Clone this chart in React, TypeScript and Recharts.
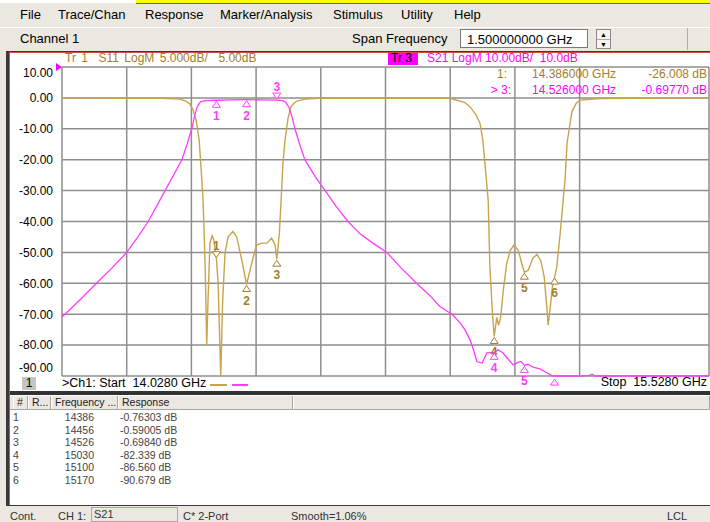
import { LineChart, Line, XAxis, YAxis, CartesianGrid, ReferenceDot } from "recharts"

// Sweep 14.028 – 15.528 GHz, 10 divisions
const FREQ_TICKS = [14.028, 14.178, 14.328, 14.478, 14.628, 14.778, 14.928, 15.078, 15.228, 15.378, 15.528]
const DB_TICKS = [10, 0, -10, -20, -30, -40, -50, -60, -70, -80, -90]

// Tr 1: S11 (5 dB/div)
const S11_FREQ = [14.028, 14.179, 14.255, 14.302, 14.316, 14.325, 14.332, 14.339, 14.346, 14.35, 14.355, 14.36, 14.3635, 14.3665, 14.371, 14.376, 14.38, 14.386, 14.39, 14.396, 14.4005, 14.406, 14.413, 14.424, 14.433, 14.445, 14.456, 14.468, 14.479, 14.491, 14.503, 14.514, 14.522, 14.526, 14.532, 14.536, 14.54, 14.545, 14.552, 14.559, 14.571, 14.591, 14.626, 14.928, 14.962, 14.974, 14.988, 14.997, 15.004, 15.009, 15.016, 15.02, 15.026, 15.03, 15.036, 15.04, 15.045, 15.051, 15.059, 15.067, 15.076, 15.086, 15.094, 15.1, 15.109, 15.119, 15.129, 15.138, 15.146, 15.152, 15.155, 15.159, 15.166, 15.17, 15.175, 15.183, 15.19, 15.194, 15.199, 15.21, 15.22, 15.229, 15.275, 15.528]
const S11_DB = [0, -0.05, -0.05, -0.2, -0.55, -1.0, -2.0, -3.6, -6.85, -10.9, -16.5, -27.4, -40, -32.8, -23.5, -22.3, -23, -26.0, -30, -45, -32.8, -25.1, -22.5, -21.6, -22.5, -26.3, -30.2, -26.7, -23.8, -23.5, -23.5, -22.7, -23.8, -26.1, -21.9, -16.5, -10.9, -6.85, -3.3, -1.35, -0.55, -0.2, -0.05, -0.05, -0.75, -1.45, -2.75, -4.1, -7, -11, -16.5, -27.4, -34.9, -38.6, -35.5, -36.8, -35.5, -31.2, -26.8, -24.7, -23.8, -24.7, -26.8, -28.2, -27.9, -26, -25.3, -26.3, -29, -33.9, -36.8, -34.4, -30, -29, -27.4, -21.9, -16.5, -13.5, -7.3, -2.25, -0.9, -0.35, -0.1, 0]

// Tr 3: S21 (10 dB/div)
const S21_FREQ = [14.028, 14.035, 14.07, 14.108, 14.144, 14.178, 14.204, 14.228, 14.267, 14.306, 14.318, 14.329, 14.336, 14.341, 14.346, 14.35, 14.36, 14.386, 14.418, 14.456, 14.492, 14.526, 14.54, 14.547, 14.554, 14.561, 14.568, 14.58, 14.591, 14.615, 14.638, 14.663, 14.691, 14.719, 14.749, 14.781, 14.814, 14.85, 14.881, 14.904, 14.932, 14.951, 14.962, 14.974, 14.983, 14.99, 15.002, 15.013, 15.03, 15.039, 15.05, 15.062, 15.074, 15.085, 15.092, 15.1, 15.108, 15.12, 15.136, 15.15, 15.166, 15.229, 15.25, 15.257, 15.264, 15.528]
const S21_DB = [-70.8, -70, -65.3, -60, -55, -50, -45, -40, -30, -20, -15, -10, -5.5, -3, -1.8, -1.2, -0.85, -0.763, -0.65, -0.59, -0.62, -0.698, -0.9, -1.5, -3, -6, -10, -15.5, -20, -25.5, -30, -35, -40, -44, -47, -50, -55, -60, -64, -67.5, -70, -72.8, -75, -78.3, -82, -85.4, -85.8, -82.5, -82.339, -81.5, -82.5, -84.5, -86.4, -85.6, -85.3, -86.56, -86.2, -87.1, -87.7, -88.8, -90, -90, -89.8, -89.4, -90, -90]

// markers 1..6
const MARKER_MHZ = [14386, 14456, 14526, 15030, 15100, 15170]
const MARKER_S21 = [-0.76303, -0.59005, -0.6984, -82.339, -86.56, -90.679]
const MARKER_S21_TEXT = ["-0.76303 dB", "-0.59005 dB", "-0.69840 dB", "-82.339 dB", "-86.560 dB", "-90.679 dB"]
const MARKER_S11 = [-26.008, -30.2, -26.1, -38.6, -28.2, -29.0]

const MENU = [["File", 20], ["Trace/Chan", 58], ["Response", 145], ["Marker/Analysis", 220], ["Stimulus", 333], ["Utility", 401], ["Help", 454]] as const

const TAN = "#c9a24c"
const TAN_TEXT = "#a37d2a"
const MAG = "#ff3cff"
const UI_BG = "#eae8e1"
const FONT = '"Liberation Sans", Arial, sans-serif'

const s11Data = S11_FREQ.map((f, i) => ({ f, v: S11_DB[i] }))
const s21Data = S21_FREQ.map((f, i) => ({ f, v: S21_DB[i] }))

function YTick(props: any) {
  const { x, y, payload } = props
  const v = payload.value as number
  const dy = v === 10 ? 6 : v === -90 ? -8 : 0
  return (
    <g>
      <text x={x - 1} y={y + dy} dy="0.36em" textAnchor="end" fontSize={12} fill="#000" fontFamily={FONT}>
        {v.toFixed(2)}
      </text>
      {v === 10 && <path d={`M${x + 2},${y - 4} L${x + 8},${y} L${x + 2},${y + 4} Z`} fill="#ff00ff" />}
    </g>
  )
}

// active marker: ▽ above the trace with its number on top; others: △ below with number underneath
function marker(n: number, color: string, active: boolean, showLabel = true) {
  return (p: any) => {
    const { cx, cy } = p
    if (active) {
      return (
        <g>
          <path d={`M${cx - 4},${cy - 7} L${cx + 4},${cy - 7} L${cx},${cy - 1} Z`} fill="#fff" stroke={color} strokeWidth={1} />
          <text x={cx} y={cy - 9} textAnchor="middle" fontSize={12} fontWeight="bold" fill={color} fontFamily={FONT}>{n}</text>
        </g>
      )
    }
    return (
      <g>
        <path d={`M${cx},${cy + 1} L${cx + 4},${cy + 7} L${cx - 4},${cy + 7} Z`} fill="#fff" stroke={color} strokeWidth={1} />
        {showLabel && <text x={cx} y={cy + 20} textAnchor="middle" fontSize={12} fontWeight="bold" fill={color} fontFamily={FONT}>{n}</text>}
      </g>
    )
  }
}

const abs = (left: number, top: number, extra: React.CSSProperties = {}): React.CSSProperties => ({
  position: "absolute", left, top, whiteSpace: "nowrap", ...extra,
})

export default function App() {
  return (
    <div style={{ position: "fixed", left: 0, top: 0, width: 710, height: 522, overflow: "hidden", background: UI_BG, fontFamily: FONT, color: "#000" }}>
      {/* title strip */}
      <div style={abs(0, 0, { width: 710, height: 3, background: "#fff" })} />
      <div style={abs(136, 0, { width: 574, height: 3, background: "#ffff00", borderBottom: "1px solid #666" })} />

      {/* menu bar */}
      {MENU.map(([t, x]) => (
        <div key={t} style={abs(x, 7, { fontSize: 13, lineHeight: "16px" })}>{t}</div>
      ))}
      <div style={abs(0, 27, { width: 710, height: 1, background: "#fff" })} />

      {/* toolbar */}
      <div style={abs(20, 31, { fontSize: 13, lineHeight: "16px" })}>Channel 1</div>
      <div style={abs(352, 31, { fontSize: 13, lineHeight: "16px" })}>Span Frequency</div>
      <div style={abs(460, 29, { width: 128, height: 19, background: "#fff", border: "1px solid #7a7a7a", fontSize: 13, lineHeight: "19px", paddingLeft: 6, boxSizing: "border-box" as const })}>1.500000000 GHz</div>
      <div style={abs(596, 29, { width: 15, height: 20, background: "#f4f3ef", border: "1px solid #8a8a8a", boxSizing: "border-box" as const, fontSize: 7, lineHeight: "9px", textAlign: "center" })}>
        <div>▲</div>
        <div style={{ borderTop: "1px solid #aaa" }}>▼</div>
      </div>
      <div style={abs(687, 28, { width: 1, height: 22, background: "#b0aea6" })} />

      {/* chart panel */}
      <div style={abs(6, 51, { width: 704, height: 455, background: "#3a3a3a" })} />
      <div style={abs(9, 52, { width: 701, height: 453, background: "#d44a4a" })} />
      <div style={abs(10, 53, { width: 700, height: 338, background: "#fff" })} />

      <div style={abs(0, 52)}>
        <LineChart width={710} height={340} margin={{ top: 15, right: 1, bottom: 16, left: 0 }}>
          <CartesianGrid stroke="#8e8e8e" strokeWidth={1.5} verticalFill={[]} horizontalFill={[]} />
          <XAxis type="number" dataKey="f" domain={[14.028, 15.528]} ticks={FREQ_TICKS} hide allowDataOverflow />
          <YAxis type="number" domain={[-90, 10]} ticks={DB_TICKS} interval={0} width={62} axisLine={false} tickLine={false} tick={<YTick />} />
          <YAxis yAxisId="s11" type="number" domain={[-45, 5]} hide />
          <Line data={s11Data} dataKey="v" yAxisId="s11" type="linear" stroke={TAN} strokeWidth={1.4} dot={false} isAnimationActive={false} />
          <Line data={s21Data} dataKey="v" type="linear" stroke={MAG} strokeWidth={1.3} dot={false} isAnimationActive={false} />
          {MARKER_MHZ.map((m, i) => (
            <ReferenceDot key={"s11-" + i} x={m / 1000} y={MARKER_S11[i]} yAxisId="s11" r={0} ifOverflow="visible" shape={marker(i + 1, TAN_TEXT, i === 0)} />
          ))}
          {MARKER_MHZ.map((m, i) => (
            <ReferenceDot key={"s21-" + i} x={m / 1000} y={MARKER_S21[i]} r={0} ifOverflow="visible" shape={marker(i + 1, MAG, i === 2, MARKER_S21[i] > -90)} />
          ))}
        </LineChart>
      </div>

      {/* trace titles */}
      <div style={abs(65, 52, { fontSize: 12, color: TAN_TEXT, lineHeight: "13px", wordSpacing: 2 })}>Tr 1&nbsp; S11 LogM 5.000dB/&nbsp; 5.00dB</div>
      <div style={abs(388, 53, { width: 30, height: 12, background: "#ff00ff" })} />
      <div style={abs(391, 52, { fontSize: 12, color: "#000", lineHeight: "13px" })}>Tr 3</div>
      <div style={abs(427, 52, { fontSize: 12, color: "#ff00ff", lineHeight: "13px" })}>S21 LogM 10.00dB/&nbsp; 10.0dB</div>

      {/* marker readout */}
      <div style={abs(470, 67, { width: 37, textAlign: "right", fontSize: 12, color: TAN_TEXT })}>1:</div>
      <div style={abs(532, 67, { fontSize: 12, color: TAN_TEXT })}>14.386000 GHz</div>
      <div style={abs(600, 67, { width: 107, textAlign: "right", fontSize: 12, color: TAN_TEXT })}>-26.008 dB</div>
      <div style={abs(470, 83, { width: 41, textAlign: "right", fontSize: 12, color: "#ff00ff" })}>&gt; 3:</div>
      <div style={abs(532, 83, { fontSize: 12, color: "#ff00ff" })}>14.526000 GHz</div>
      <div style={abs(600, 83, { width: 107, textAlign: "right", fontSize: 12, color: "#ff00ff" })}>-0.69770 dB</div>

      {/* bottom of plot panel */}
      <div style={abs(22, 377, { width: 14, height: 13, background: "#c4c4c4", fontSize: 12, lineHeight: "13px", textAlign: "center" })}>1</div>
      <div style={abs(62, 376, { fontSize: 12.5, lineHeight: "14px" })}>&gt;Ch1: Start&nbsp; 14.0280 GHz</div>
      <div style={abs(210, 384, { width: 17, height: 2, background: TAN })} />
      <div style={abs(232, 384, { width: 16, height: 2, background: MAG })} />
      <div style={abs(560, 375, { width: 147, textAlign: "right", fontSize: 12.5, lineHeight: "14px" })}>Stop&nbsp; 15.5280 GHz</div>
      <div style={abs(10, 391, { width: 700, height: 4, background: "#333" })} />

      {/* marker table */}
      <div style={abs(10, 395, { width: 700, height: 110, background: "#fff" })} />
      <div style={abs(10, 396, { width: 700, height: 13, background: UI_BG, borderBottom: "1px solid #a8a6a0", fontSize: 10.5, lineHeight: "13px", color: "#222" })}>
        {[["#", 3, 15], ["R...", 18, 23], ["Frequency ...", 41, 67], ["Response", 108, 175], ["", 283, 417]].map(([t, x, w]) => (
          <div key={String(x)} style={{ position: "absolute", left: x as number, top: 0, width: w as number, height: 13, borderRight: "1px solid #a8a6a0", borderLeft: "1px solid #fff", paddingLeft: 3, boxSizing: "border-box" }}>{t}</div>
        ))}
      </div>
      {MARKER_MHZ.map((m, i) => (
        <div key={m}>
          <div style={abs(13, 411 + i * 12.6, { fontSize: 10.5, lineHeight: "12px", color: "#444" })}>{i + 1}</div>
          <div style={abs(60, 411 + i * 12.6, { width: 34, textAlign: "right", fontSize: 10.5, lineHeight: "12px", color: "#444" })}>{m}</div>
          <div style={abs(120, 411 + i * 12.6, { fontSize: 10.5, lineHeight: "12px", color: "#444" })}>{MARKER_S21_TEXT[i]}</div>
        </div>
      ))}

      {/* status bar */}
      <div style={abs(0, 506, { width: 710, height: 16, background: UI_BG })} />
      <div style={abs(10, 510, { fontSize: 11, color: "#333" })}>Cont.</div>
      <div style={abs(58, 510, { fontSize: 11, color: "#333" })}>CH 1:</div>
      <div style={abs(91, 507, { width: 87, height: 15, border: "1px solid #e080e0", boxSizing: "border-box", fontSize: 11, lineHeight: "13px", paddingLeft: 2, color: "#333" })}>S21</div>
      <div style={abs(183, 510, { fontSize: 11, color: "#333" })}>C* 2-Port</div>
      <div style={abs(291, 510, { fontSize: 11, color: "#333" })}>Smooth=1.06%</div>
      <div style={abs(667, 510, { fontSize: 11, color: "#333" })}>LCL</div>
    </div>
  )
}
